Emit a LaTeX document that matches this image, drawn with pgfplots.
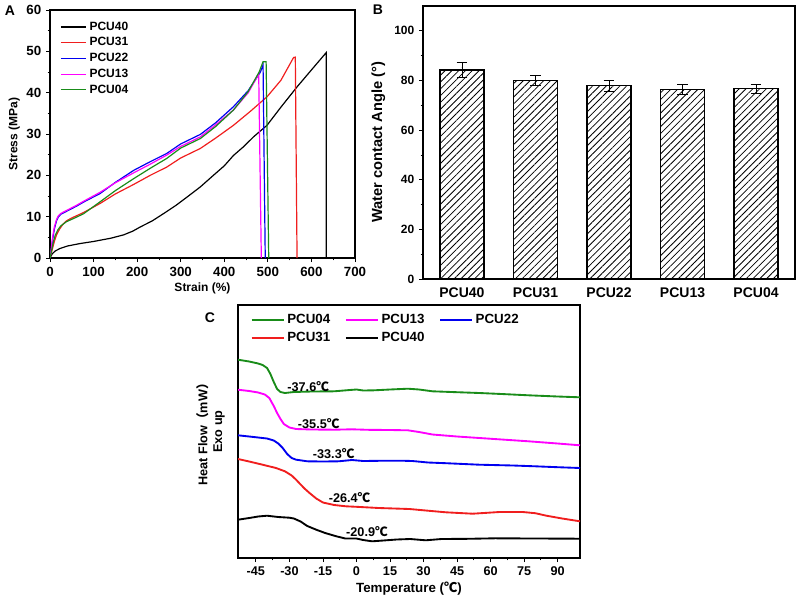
\documentclass[border=0pt]{standalone}
\usepackage{pgfplots}
\pgfplotsset{compat=1.18}
\usetikzlibrary{patterns.meta}
\usepackage{fontspec}
\setmainfont{Liberation Sans}
\newfontfamily\cjk{Noto Sans CJK SC}
\definecolor{pcuG}{RGB}{25,140,25}
\definecolor{pcuM}{RGB}{255,0,255}
\definecolor{pcuB}{RGB}{0,0,240}
\definecolor{pcuR}{RGB}{240,30,30}
\pgfplotsset{
  base/.style={scale only axis, anchor=south west,
    axis line style={line width=0.8pt},
    tick align=outside, xtick pos=bottom, ytick pos=left,
    tick style={black, line width=0.6pt},
    major tick length=3pt, minor tick length=1.8pt,
    /pgf/number format/assume math mode=true,
    /pgf/number format/1000 sep={}},
}
\begin{document}
\begin{tikzpicture}
\path[use as bounding box] (0pt,0pt) rectangle (600pt,-453pt);

% ---------------- Panel A ----------------
\begin{axis}[base, at={(37.5pt,-193.5pt)}, width=228.75pt, height=186pt,
  xmin=0, xmax=700, ymin=0, ymax=60,
  xtick={0,100,...,700}, minor x tick num=1,
  ytick={0,10,...,60}, minor y tick num=1,
  tick label style={font=\bfseries\fontsize{10}{12}\selectfont},
  label style={font=\bfseries\fontsize{9}{11}\selectfont},
  xlabel={Strain (\%)}, ylabel={Stress (MPa)},
  xlabel style={yshift=2pt}, ylabel style={yshift=-2pt},
  legend style={draw=none, fill=none, at={(0.02,0.975)}, anchor=north west,
    font=\bfseries\fontsize{9}{11}\selectfont, row sep=0pt},
  legend image code/.code={\draw[#1, line width=0.9pt] (0pt,0pt) -- (19pt,0pt);},
  every axis plot/.append style={line width=0.9pt}]
\addplot[black] coordinates {(0,0) (5,1) (12,1.7) (23,2.3) (40,2.9) (69,3.5) (100,4.0) (115,4.3) (140,4.8) (169,5.6) (190,6.5) (207,7.5) (235,9) (260,10.7) (290,12.8) (314,14.7) (345,17.2) (375,20) (400,22.3) (421,24.8) (445,27) (467,29.3) (498,32.1) (530,36.5) (567,41.4) (600,45.5) (634,49.7) (634,0)};
\addlegendentry{PCU40}
\addplot[pcuR] coordinates {(0,0) (5,2) (10,4) (15,5.6) (22,7) (30,8.2) (38,9) (50,9.7) (77,11) (115,13.2) (150,15.5) (192,17.8) (230,20) (268,22) (300,24.2) (345,26.5) (380,29) (421,32.1) (460,35.5) (498,39) (530,43) (559,48.5) (563,48.6) (567,0)};
\addlegendentry{PCU31}
\addplot[pcuB] coordinates {(0,0) (3,2) (6,4.5) (10,7) (15,9) (19,9.9) (25,10.6) (38,11.3) (60,12.5) (80,13.7) (115,15.6) (150,18.3) (192,21.2) (230,23.3) (268,25.3) (300,27.6) (345,29.9) (380,32.7) (421,36.6) (455,40.5) (483,45) (489,46.7) (494,0)};
\addlegendentry{PCU22}
\addplot[pcuM] coordinates {(0,0) (3,2.3) (6,5) (10,7.5) (15,9.3) (19,10.2) (25,10.8) (38,11.5) (60,12.7) (80,13.9) (115,15.9) (150,18.2) (192,20.6) (230,22.7) (268,24.9) (300,27) (345,29.3) (380,32.2) (421,35.8) (455,40) (479,44.5) (485,0)};
\addlegendentry{PCU13}
\addplot[pcuG] coordinates {(0,0) (4,2) (8,4) (12,5.5) (18,6.8) (25,7.8) (38,8.8) (55,9.6) (77,10.7) (115,13.6) (150,16.3) (192,19.2) (230,21.7) (268,24.1) (300,26.6) (345,28.9) (380,31.8) (421,35.8) (455,40.3) (480,45) (489,47.5) (496,47.5) (502,0)};
\addlegendentry{PCU04}
\end{axis}

% ---------------- Panel B ----------------
\begin{axis}[base, at={(317.25pt,-209.25pt)}, width=279pt, height=204.75pt,
  xmin=-0.53, xmax=4.53, ymin=0, ymax=110,
  xtick={0,1,2,3,4}, xticklabels={PCU40,PCU31,PCU22,PCU13,PCU04},
  major x tick style={draw=none},
  ytick={0,20,...,100}, minor y tick num=1,
  xticklabel style={font=\bfseries\fontsize{10.5}{12}\selectfont},
  yticklabel style={font=\bfseries\fontsize{9}{11}\selectfont},
  ylabel={Water contact Angle (°)},
  ylabel style={font=\bfseries\fontsize{11}{13}\selectfont}]
\addplot[ybar, bar width=33pt, draw=black, line width=0.9pt,
  pattern={Lines[angle=45,distance=3.6pt,line width=0.6pt]},
  error bars/.cd, y dir=both, y explicit,
  error bar style={line width=0.7pt, solid},
  error mark options={rotate=90, mark size=4pt, line width=0.7pt}]
  coordinates {(0,84.2) +- (0,3.0) (1,79.9) +- (0,2.0) (2,77.9) +- (0,2.2) (3,76.3) +- (0,1.9) (4,76.6) +- (0,1.9)};
\end{axis}

% ---------------- Panel C ----------------
\begin{axis}[base, at={(178.5pt,-418.5pt)}, width=256.5pt, height=189.75pt,
  xmin=-53, xmax=100, ymin=0, ymax=253,
  xtick={-45,-30,...,90}, minor x tick num=1, ytick=\empty,
  tick label style={font=\bfseries\fontsize{9.5}{11}\selectfont},
  xlabel={Temperature ({\cjk ℃})},
  xlabel style={font=\bfseries\fontsize{10}{12}\selectfont, yshift=2pt},
  ylabel={Heat Flow{\cjk （}mW{\cjk ）}\\Exo up},
  ylabel style={font=\bfseries\fontsize{9.5}{11}\selectfont, align=center,
    at={(axis description cs:-0.025,0.5)}, anchor=south},
  legend columns=3,
  legend style={draw=none, fill=none, at={(0.025,0.985)}, anchor=north west,
    font=\bfseries\fontsize{10}{12}\selectfont, row sep=1pt,
    /tikz/every even column/.append style={column sep=9pt}},
  legend image code/.code={\draw[#1] (0pt,0pt) -- (24pt,0pt);},
  every axis plot/.append style={line width=1.4pt}]
\addplot[pcuG] coordinates {(-53,198.3) (-48,196.5) (-44,194.5) (-42,193) (-40,190) (-38.5,184) (-37,176) (-35.5,169) (-34,166) (-32,165) (-28,166) (-20,166.5) (-10,166.7) (-3,168) (0,168.5) (3,167.5) (8,167.7) (15,168.5) (23,169.3) (28,168.5) (34,166.7) (45,165.8) (55,165) (65,164) (77,162.7) (90,161.5) (100,160.7)};
\addlegendentry{PCU04}
\addplot[pcuM] coordinates {(-53,168.3) (-48,167) (-44,165.5) (-41,163.5) (-39,160) (-37,152) (-35.5,145) (-34,139) (-32.5,134) (-30,130.5) (-27,129) (-20,128.5) (-10,128.3) (-2,128.7) (5,128.2) (15,128) (23,127.7) (28,126) (34,123.5) (45,121.5) (55,120) (65,118.5) (77,116.7) (90,114.5) (100,112.7)};
\addlegendentry{PCU13}
\addplot[pcuB] coordinates {(-53,122.7) (-48,121.5) (-44,120.5) (-40,119.5) (-37,117.5) (-35,114.5) (-33,110) (-31,104) (-29,100) (-27,98.3) (-22,96.7) (-15,96.5) (-8,96.7) (-2,98) (3,97) (10,97.2) (20,97.3) (25,97) (32,95.5) (40,94.8) (55,93.3) (70,92.5) (80,91.7) (90,90.8) (100,90)};
\addlegendentry{PCU22}
\addplot[pcuR] coordinates {(-53,99) (-48,96.5) (-42,93.3) (-36,90) (-32,86.7) (-29,82.5) (-27,78.3) (-25,73.5) (-23,69) (-21,65) (-18,59.5) (-15,55.5) (-10,53) (-4.7,51.7) (0,51.2) (10,50) (23.7,49) (32,47.3) (40,45.7) (52,44.3) (64,46) (74.4,46) (80,44.8) (85,42.3) (92,39.5) (100,36.7)};
\addlegendentry{PCU31}
\addplot[black] coordinates {(-53,38.3) (-48,40) (-44,41.5) (-40,42.3) (-35,41) (-30,40.3) (-28,39.5) (-25,36.5) (-22,32) (-18,28.3) (-14,25) (-9,21.7) (-5,19.5) (-2,19.5) (0,19.5) (3,18) (7,16.7) (12,17.5) (18,18.5) (24,19) (31,17.7) (38,19) (50,19.2) (62,19.7) (80,19.5) (100,19.3)};
\addlegendentry{PCU40}
\node[anchor=west, font=\bfseries\fontsize{9.5}{11}\selectfont, inner sep=0pt] at (axis cs:-31,171) {-37.6{\cjk ℃}};
\node[anchor=west, font=\bfseries\fontsize{9.5}{11}\selectfont, inner sep=0pt] at (axis cs:-26.3,134.3) {-35.5{\cjk ℃}};
\node[anchor=west, font=\bfseries\fontsize{9.5}{11}\selectfont, inner sep=0pt] at (axis cs:-19.6,104.3) {-33.3{\cjk ℃}};
\node[anchor=west, font=\bfseries\fontsize{9.5}{11}\selectfont, inner sep=0pt] at (axis cs:-12.5,60) {-26.4{\cjk ℃}};
\node[anchor=west, font=\bfseries\fontsize{9.5}{11}\selectfont, inner sep=0pt] at (axis cs:-4.7,26.7) {-20.9{\cjk ℃}};
\end{axis}

% panel letters
\node[font=\bfseries\fontsize{10.5}{12}\selectfont] at (7.5pt,-8.25pt) {A};
\node[font=\bfseries\fontsize{10.5}{12}\selectfont] at (283.5pt,-7.5pt) {B};
\node[font=\bfseries\fontsize{10.5}{12}\selectfont] at (157.5pt,-238.5pt) {C};
\end{tikzpicture}
\end{document}
